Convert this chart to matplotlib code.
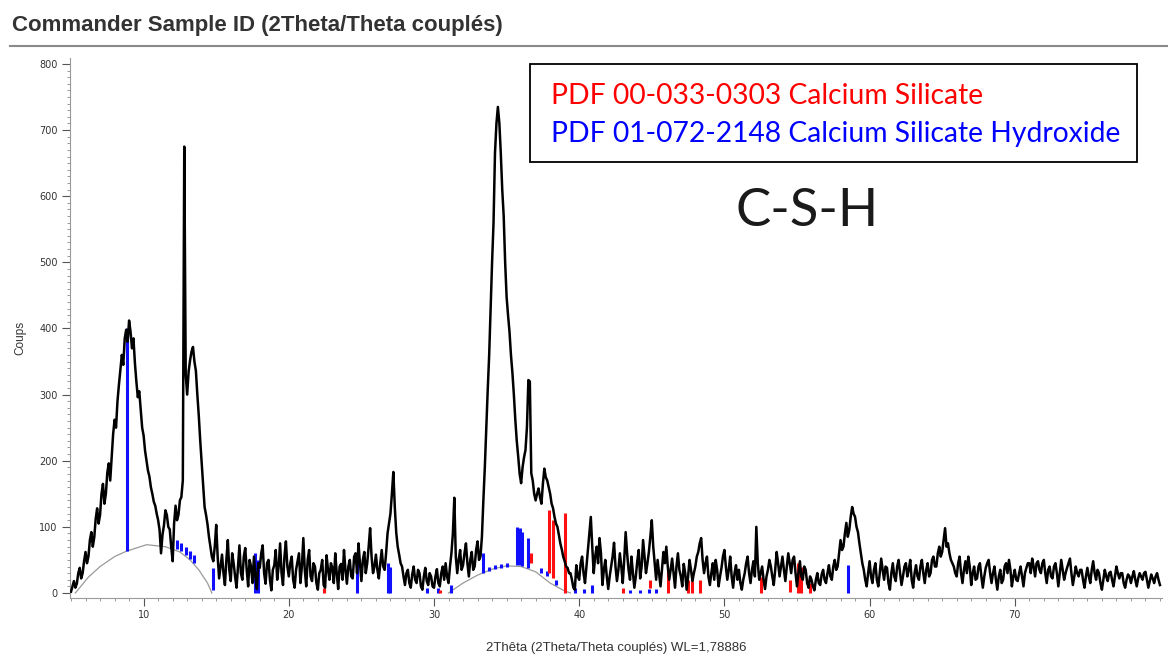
import numpy as np
import matplotlib
matplotlib.use("Agg")
import matplotlib.pyplot as plt
from matplotlib.ticker import MultipleLocator

# 2Theta scan: 5.0 -> 80.0 deg, step 0.1 (one row per degree)
two_theta = np.round(np.arange(5.0, 80.001, 0.1), 1)
coups = [
    2, 10, 18, 8, 14, 30, 38, 22, 30, 48,            # 5
    62, 45, 55, 80, 92, 70, 84, 112, 128, 105,       # 6
    118, 150, 165, 135, 150, 182, 196, 170, 205, 240,  # 7
    262, 250, 290, 315, 338, 360, 345, 385, 398, 380,  # 8
    412, 395, 370, 385, 348, 320, 296, 305, 278, 250,  # 9
    238, 215, 200, 185, 176, 160, 150, 138, 132, 120,  # 10
    110, 95, 60, 88, 102, 125, 118, 100, 96, 70,     # 11
    48, 105, 132, 110, 118, 140, 145, 170, 675, 330,  # 12
    300, 335, 352, 365, 372, 350, 336, 300, 268, 230,  # 13
    196, 160, 130, 118, 104, 85, 70, 55, 48, 70,     # 14
    103, 55, 22, 40, 58, 30, 12, 50, 80, 35,         # 15
    18, 60, 45, 25, 8, 40, 72, 30, 20, 55,           # 16
    68, 35, 10, 50, 40, 15, 55, 25, 6, 45,           # 17
    38, 60, 72, 30, 14, 45, 50, 20, 4, 35,           # 18
    42, 65, 20, 40, 75, 30, 12, 55, 78, 40,          # 19
    25, 45, 55, 20, 8, 35, 48, 60, 15, 40,           # 20
    83, 35, 10, 50, 65, 25, 18, 45, 40, 15,          # 21
    5, 30, 35, 50, 12, 8, 57, 35, 20, 45,            # 22
    38, 15, 60, 30, 6, 40, 44, 20, 65, 35,           # 23
    14, 40, 50, 25, 22, 55, 60, 30, 75, 45,          # 24
    18, 50, 62, 30, 45, 70, 98, 55, 30, 40,          # 25
    58, 35, 22, 45, 65, 40, 35, 60, 90, 105,         # 26
    120, 150, 183, 130, 91, 70, 58, 45, 40, 25,      # 27
    12, 30, 35, 15, 8, 28, 40, 20, 15, 35,           # 28
    30, 10, 5, 25, 38, 18, 12, 30, 25, 10,           # 29
    8, 25, 36, 15, 10, 30, 40, 20, 45, 25,           # 30
    15, 40, 60, 90, 144, 55, 30, 50, 65, 35,         # 31
    42, 60, 75, 45, 25, 50, 62, 35, 40, 65,          # 32
    78, 50, 55, 85, 140, 190, 250, 307, 360, 430,    # 33
    500, 560, 665, 710, 735, 711, 665, 610, 570, 500,  # 34
    448, 420, 395, 360, 333, 300, 262, 230, 206, 180,  # 35
    166, 190, 205, 216, 250, 322, 320, 181, 170, 150,  # 36
    140, 150, 158, 145, 135, 165, 188, 175, 170, 160,  # 37
    150, 135, 128, 115, 105, 100, 88, 75, 66, 55,    # 38
    48, 40, 38, 30, 30, 20, 8, 5, 42, 25,            # 39
    20, 45, 55, 30, 15, 40, 65, 90, 115, 70,         # 40
    30, 55, 70, 45, 83, 60, 12, 35, 50, 25,          # 41
    6, 25, 40, 55, 76, 40, 18, 35, 60, 40,           # 42
    15, 50, 92, 60, 35, 20, 55, 30, 8, 25,           # 43
    48, 65, 22, 40, 80, 55, 30, 45, 62, 85,          # 44
    110, 70, 45, 20, 50, 30, 10, 35, 62, 45,         # 45
    70, 40, 20, 35, 52, 30, 8, 40, 60, 35,           # 46
    25, 10, 44, 30, 5, 25, 50, 35, 18, 30,           # 47
    40, 55, 62, 75, 83, 50, 30, 45, 55, 25,          # 48
    12, 30, 45, 20, 50, 35, 10, 25, 38, 55,          # 49
    65, 40, 20, 35, 55, 25, 8, 30, 42, 20,           # 50
    35, 15, 5, 20, 30, 45, 55, 30, 15, 35,           # 51
    48, 25, 100, 45, 20, 30, 40, 20, 6, 25,          # 52
    35, 50, 40, 25, 12, 35, 62, 45, 25, 40,          # 53
    55, 35, 18, 40, 60, 45, 30, 50, 55, 30,          # 54
    10, 30, 48, 25, 20, 40, 35, 15, 8, 25,           # 55
    20, 10, 4, 20, 30, 15, 12, 28, 35, 20,           # 56
    15, 30, 42, 25, 20, 40, 50, 35, 40, 60,          # 57
    80, 65, 70, 90, 106, 85, 95, 115, 130, 120,      # 58
    115, 100, 92, 75, 60, 45, 35, 20, 10, 30,        # 59
    48, 25, 15, 35, 45, 20, 10, 30, 52, 35,          # 60
    20, 40, 38, 15, 5, 30, 45, 25, 18, 40,           # 61
    50, 30, 12, 25, 40, 45, 25, 35, 50, 20,          # 62
    8, 30, 42, 25, 20, 40, 50, 30, 15, 35,           # 63
    45, 25, 30, 50, 55, 40, 40, 60, 70, 55,          # 64
    62, 80, 98, 70, 75, 60, 50, 45, 40, 30,          # 65
    25, 45, 55, 30, 15, 35, 48, 30, 55, 40,          # 66
    12, 30, 40, 20, 22, 40, 45, 25, 8, 25,           # 67
    38, 45, 50, 30, 15, 30, 40, 20, 5, 25,           # 68
    35, 15, 20, 40, 45, 30, 50, 35, 10, 25,          # 69
    35, 20, 18, 30, 40, 25, 10, 30, 38, 45,          # 70
    45, 30, 52, 40, 25, 45, 48, 35, 30, 45,          # 71
    50, 30, 15, 35, 40, 25, 22, 40, 45, 30,          # 72
    10, 30, 50, 35, 20, 30, 38, 45, 52, 30,          # 73
    12, 25, 40, 30, 25, 35, 35, 20, 8, 25,           # 74
    38, 25, 15, 35, 48, 30, 20, 35, 30, 15,          # 75
    5, 20, 35, 25, 18, 30, 32, 20, 10, 25,           # 76
    40, 30, 22, 30, 30, 15, 8, 20, 28, 25,           # 77
    15, 25, 33, 20, 10, 22, 30, 25, 20, 30,          # 78
    32, 20, 8, 18, 28, 22, 15, 25, 30, 20,           # 79
    12,                                              # 80
]

# amorphous background humps (grey)
bg1_x = [5.3, 6.2, 7.0, 8.0, 8.8, 10.2, 11.5, 12.5, 13.2, 13.8, 14.4, 14.7]
bg1_y = [0, 24, 40, 55, 63, 73, 70, 62, 50, 35, 15, 0]
bg2_x = [31.0, 32.0, 33.0, 34.0, 35.0, 36.0, 37.0, 38.0, 39.0, 39.4]
bg2_y = [0, 15, 27, 36, 41, 40, 32, 15, 3, 0]

# PDF 00-033-0303 Calcium Silicate (red sticks)
red_pos = [22.4, 30.4, 36.7, 37.9, 38.2, 39.0, 43.0, 44.9, 46.1, 47.5, 47.8, 48.3, 52.5, 54.5, 55.1, 55.3, 55.9]
red_bot = [0, 0, 45, 30, 22, 0, 0, 8, 0, 0, 0, 0, 0, 2, 0, 0, 0]
red_top = [8, 5, 60, 125, 110, 121, 8, 20, 35, 20, 18, 20, 24, 20, 45, 40, 15]

# PDF 01-072-2148 Calcium Silicate Hydroxide (blue sticks)
blue_pos = [8.85, 12.3, 12.6, 12.9, 13.2, 13.5, 14.8, 17.7, 17.9, 24.7, 26.8, 27.0, 29.5, 30.3, 31.2,
            33.4, 33.8, 34.2, 34.6, 35.0, 35.75, 35.9, 36.05, 36.45, 37.4, 37.8, 38.4, 39.7, 40.3, 40.85,
            43.5, 44.2, 44.8, 45.3, 58.5]
blue_bot = [64, 66, 63, 58, 52, 45, 5, 0, 0, 0, 0, 0, 0, 0, 0,
            30, 33, 36, 38, 40, 42, 42, 41, 38, 30, 25, 12, 0, 0, 0,
            0, 0, 0, 0, 0]
blue_top = [400, 80, 76, 70, 64, 57, 38, 60, 50, 45, 45, 40, 8, 8, 12,
            60, 40, 42, 44, 46, 100, 98, 92, 83, 38, 33, 20, 8, 6, 12,
            5, 5, 6, 6, 42]

fig = plt.figure(figsize=(11.68, 6.57), dpi=100)
ax = fig.add_axes([70 / 1168, 1 - 598 / 657, 1092 / 1168, 540 / 657])

ax.plot(bg1_x, bg1_y, color="#9a9a9a", lw=0.9)
ax.plot(bg2_x, bg2_y, color="#9a9a9a", lw=0.9)
ax.vlines(blue_pos, blue_bot, blue_top, color="#1010ff", lw=2.2, zorder=2)
ax.vlines(red_pos, red_bot, red_top, color="#ff1010", lw=2.2, zorder=2)
ax.plot(two_theta, coups, color="black", lw=1.8, zorder=3)

ax.set_xlim(4.93, 80.14)
ax.set_ylim(-7.6, 809)
for s in ["top", "right"]:
    ax.spines[s].set_visible(False)
for s in ["left", "bottom"]:
    ax.spines[s].set_color("#9a9a9a")
    ax.spines[s].set_linewidth(0.8)

ax.xaxis.set_major_locator(MultipleLocator(10))
ax.xaxis.set_minor_locator(MultipleLocator(1))
ax.yaxis.set_major_locator(MultipleLocator(100))
ax.yaxis.set_minor_locator(MultipleLocator(10))
ax.set_xticks(range(10, 80, 10))
ax.tick_params(axis="both", which="major", labelsize=7, length=6, width=0.8,
               color="#555555", labelcolor="#333333", pad=3)
ax.tick_params(axis="both", which="minor", length=2.5, width=0.6, color="#888888")

# axis titles placed like the instrument software
fig.text(616 / 1168, 1 - 648 / 657, "2Thêta (2Theta/Theta couplés) WL=1,78886", fontsize=9.5,
         color="#333333", ha="center", va="center", family="Liberation Sans")
fig.text(20 / 1168, 1 - 338 / 657, "Coups", fontsize=8.5, color="#333333", rotation=90,
         ha="center", va="center", family="Liberation Sans")

# header
fig.text(12 / 1168, 1 - 25 / 657, "Commander Sample ID (2Theta/Theta couplés)",
         fontsize=16, fontweight="bold", color="#333333", va="center", ha="left",
         family="Liberation Sans")
fig.add_artist(plt.Line2D([10 / 1168, 1.0], [1 - 46 / 657, 1 - 46 / 657],
                          color="#8a8a8a", lw=1.5))

# legend box
fig.patches.append(plt.Rectangle((530 / 1168, 1 - 162 / 657), 607 / 1168, 98 / 657,
                                 transform=fig.transFigure, fill=True, facecolor="white",
                                 edgecolor="black", lw=1.3))
fig.text(551 / 1168, 1 - 96 / 657, "PDF 00-033-0303 Calcium Silicate", color="#ff0000",
         fontsize=20.3, family="Lato", va="center", ha="left")
fig.text(551 / 1168, 1 - 134 / 657, "PDF 01-072-2148 Calcium Silicate Hydroxide", color="#0000ff",
         fontsize=20.3, family="Lato", va="center", ha="left")
fig.text(807 / 1168, 1 - 212 / 657, "C-S-H", color="#1a1a1a", fontsize=38,
         family="Lato", va="center", ha="center")

fig.savefig("out.png", dpi=100)
